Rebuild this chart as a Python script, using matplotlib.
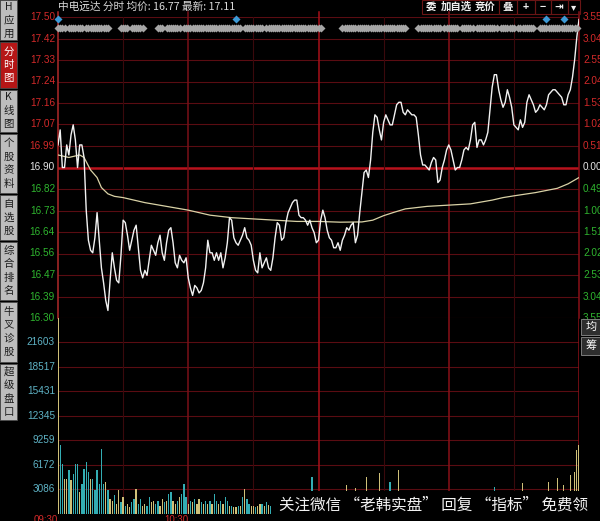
import numpy as np
import matplotlib
matplotlib.use("Agg")
import matplotlib.pyplot as plt
from matplotlib.patches import Rectangle

plt.rcParams['font.family'] = ['Noto Sans CJK SC', 'DejaVu Sans']

W, H = 600, 521

# ---- values ----
stock_title = "中电远达 分时 均价: 16.77 最新: 17.11"
prev_close = 16.90

# one price per minute, 09:30 .. 15:00 (241 points)
price = [
    16.99, 17.05, 16.90, 16.90, 16.99, 16.95, 17.03, 17.07, 17.01, 16.90,
    16.99, 16.99, 16.94, 16.73, 16.61, 16.57, 16.56, 16.62, 16.72, 16.61,
    16.50, 16.44, 16.37, 16.33, 16.45, 16.56, 16.50, 16.45, 16.44, 16.55,
    16.69, 16.68, 16.63, 16.57, 16.61, 16.65, 16.67, 16.58, 16.49, 16.46,
    16.49, 16.47, 16.53, 16.59, 16.57, 16.55, 16.60, 16.63, 16.56, 16.53,
    16.60, 16.65, 16.66, 16.60, 16.52, 16.50, 16.55, 16.53, 16.52, 16.54,
    16.46, 16.42, 16.39, 16.43, 16.42, 16.40, 16.41, 16.44, 16.50, 16.61,
    16.56, 16.56, 16.53, 16.56, 16.53, 16.56, 16.50, 16.54, 16.60, 16.70,
    16.69, 16.62, 16.60, 16.59, 16.61, 16.63, 16.66, 16.62, 16.61, 16.59,
    16.53, 16.49, 16.48, 16.56, 16.50, 16.52, 16.54, 16.50, 16.49, 16.54,
    16.62, 16.68, 16.67, 16.61, 16.62, 16.68, 16.72, 16.74, 16.76, 16.77,
    16.77, 16.71, 16.70, 16.70, 16.69, 16.67, 16.69, 16.66, 16.64, 16.60,
    16.61, 16.69, 16.73, 16.70, 16.65, 16.62, 16.61, 16.58, 16.58, 16.60,
    16.57, 16.61, 16.63, 16.66, 16.65, 16.67, 16.68, 16.60, 16.63, 16.72,
    16.80, 16.88, 16.89, 16.86, 16.93, 17.04, 17.11, 17.10, 17.05, 17.01,
    17.08, 17.11, 17.09, 17.07, 17.07, 17.11, 17.15, 17.16, 17.16, 17.12,
    17.11, 17.13, 17.12, 17.11, 17.11, 17.10, 17.03, 16.95, 16.91, 16.91,
    16.90, 16.89, 16.92, 16.94, 16.93, 16.84, 16.85, 16.90, 16.93, 16.97,
    16.99, 16.97, 16.93, 16.89, 16.90, 16.90, 16.93, 16.97, 16.98, 16.97,
    17.01, 17.07, 17.08, 16.98, 17.01, 17.01, 16.99, 17.01, 17.04, 17.13,
    17.22, 17.27, 17.27, 17.21, 17.17, 17.14, 17.16, 17.21, 17.18, 17.14,
    17.07, 17.06, 17.05, 17.09, 17.06, 17.08, 17.16, 17.19, 17.17, 17.15,
    17.12, 17.13, 17.15, 17.14, 17.13, 17.15, 17.19, 17.20, 17.21, 17.21,
    17.20, 17.19, 17.18, 17.15, 17.15, 17.19, 17.21, 17.26, 17.33, 17.42,
    17.49,
]

# average price line (smooth, read at these minutes)
avg_min = [0, 5, 10, 12, 15, 18, 20, 23, 26, 30, 40, 50, 60, 70, 80, 90, 100,
           110, 120, 130, 140, 145, 150, 155, 160, 170, 180, 190, 200, 205,
           210, 220, 230, 235, 240]
avg_price = [16.95, 16.94, 16.95, 16.94, 16.89, 16.86, 16.82, 16.795, 16.785,
             16.78, 16.76, 16.745, 16.73, 16.71, 16.70, 16.695, 16.69, 16.685,
             16.685, 16.682, 16.683, 16.69, 16.708, 16.722, 16.735, 16.745,
             16.75, 16.755, 16.77, 16.78, 16.787, 16.80, 16.817, 16.835, 16.86]

# volume per minute (bars under the watermark are guesses)
volume = [
    26000, 8600, 6300, 4380, 4380, 5440, 4170, 5020, 6280, 6280,
    2700, 3750, 5650, 6490, 5230, 4380, 4380, 2910, 5440, 3750,
    8180, 3750, 3960, 2910, 1860, 1640, 2280, 1220, 2910, 1430,
    2070, 1010, 1220, 800, 1430, 1860, 3120, 1220, 1860, 1010,
    1220, 1010, 2070, 1430, 1640, 1220, 1640, 1010, 1860, 1430,
    1640, 2490, 2700, 1640, 1220, 1640, 2070, 2490, 3750, 2070,
    1220, 1640, 1430, 1860, 1220, 1860, 1430, 1220, 1640, 1220,
    1640, 1220, 2490, 1640, 1220, 1640, 1220, 2070, 1640, 1010,
    1010, 800, 800, 1010, 1010, 2070, 3120, 1860, 1220, 1010,
    1010, 800, 1010, 1220, 1200, 1000, 1400, 1100, 900, 1300,
    1500, 1800, 1200, 1000, 1100, 1600, 1400, 1200, 1500, 1300,
    1100, 1000, 1200, 900, 1100, 1000, 1300, 4550, 1200, 1000,
    1400, 2500, 1500, 1200, 1000, 1100, 900, 1000, 1200, 900,
    1000, 1100, 1300, 3540, 1200, 1000, 1100, 3160, 1500, 1800,
    2200, 2400, 4550, 2000, 1800, 2500, 2200, 1800, 5060, 1600,
    1400, 1500, 1300, 3920, 1200, 1400, 1300, 5440, 1200, 1100,
    1000, 900, 1000, 1100, 900, 800, 1000, 1200, 1000, 900,
    800, 900, 1000, 800, 900, 1100, 1000, 900, 800, 1000,
    1100, 900, 800, 1000, 900, 800, 900, 1000, 1100, 900,
    1000, 1200, 1000, 900, 800, 900, 1000, 900, 1100, 1300,
    1500, 3290, 1400, 1200, 1000, 1100, 1200, 1300, 1100, 1000,
    900, 1000, 1100, 1200, 3800, 1100, 1300, 1400, 1200, 1000,
    1100, 1000, 1200, 1100, 1000, 1300, 3920, 1500, 1400, 1600,
    4430, 1800, 2000, 3540, 2200, 2500, 4810, 2500, 5230, 7970,
    8600,
]
# u = up minute (yellow), d = down minute (teal)
vol_dir = ("udduududdd" "uddddudddd" "dduduuduud" "uduudduddu" "udduudduud"
           "udduududdd" "ududuududu" "duddududdu" "duudududdu" "uduudududu"
           "duududdudu" "udduududdu" "uududdudud" "dududduudu" "uuuduuduud"
           "ududdududd" "duddudduud" "uduuduudud" "uduududduu" "uuduuddudu"
           "udduududdu" "ddududuudu" "dudduuuudu" "uuduuduuuu" "u")

# minutes carrying the grey trade markers, and the blue flags
tick_runs = [(0, 3), (5, 11), (13, 23), (29, 32), (34, 39), (46, 48), (50, 56),
             (58, 84), (86, 94), (96, 121), (131, 160), (166, 176), (178, 184),
             (186, 191), (193, 202), (204, 210), (212, 219), (222, 239)]
flag_min = [0, 82, 225, 233]

price_labels = ["17.50", "17.42", "17.33", "17.24", "17.16", "17.07", "16.99", "16.90",
                "16.82", "16.73", "16.64", "16.56", "16.47", "16.39", "16.30"]
pct_labels = ["3.55", "3.04", "2.55", "2.04", "1.53", "1.02", "0.51", "0.00",
              "0.49", "1.00", "1.51", "2.02", "2.53", "3.04", "3.55"]
vol_labels = ["21603", "18517", "15431", "12345", "9259", "6172", "3086"]
vol_step = 3086
time_labels = [(0, "09:30"), (60, "10:30")]
side_tabs = ["H应用", "分时图", "K线图", "个股资料", "自选股", "综合排名", "牛叉诊股", "超级盘口"]
top_buttons = ["委", "加自选", "竞价", "叠", "+", "−", "⇥", "▾"]
watermark = "关注微信 “老韩实盘” 回复 “指标” 免费领"

# ---- drawing ----
RED = '#d42a2a'
GREEN = '#2fb52f'
WHITE = '#e6e6e6'
GRID = '#5a0c12'
TEAL = '#33adb3'
YEL = '#cfc078'
NUM = 'Liberation Sans'


def fx(x):
    return x / W


def fy(y):
    return 1 - y / H


def side_color(lv):
    if abs(lv - prev_close) < 1e-6:
        return WHITE
    return RED if lv > prev_close else GREEN


fig = plt.figure(figsize=(6, 5.21), dpi=100, facecolor='black')
ax = fig.add_axes([fx(58), fy(318), 521 / W, 301 / H], facecolor='black')
axv = fig.add_axes([fx(58), fy(513.5), 521 / W, 195.5 / H], facecolor='black')
for a in (ax, axv):
    a.set_xlim(0, 240)
    a.set_xticks([])
    a.set_yticks([])
    for s in a.spines.values():
        s.set_visible(False)
ax.set_ylim(16.30, 17.50)
axv.set_ylim(0, vol_step * 8)

# price grid + labels (right-hand % labels run off the edge as in the screenshot)
levels = np.linspace(17.50, 16.30, len(price_labels))
for lv, lab, pct in zip(levels, price_labels, pct_labels):
    c = side_color(lv)
    if abs(lv - prev_close) < 1e-6:
        ax.axhline(lv, color='#b8121c', lw=1.8, zorder=1)
    else:
        ax.axhline(lv, color=GRID, lw=0.8, zorder=1)
    ax.text(-3 / 521, lv, lab, transform=ax.get_yaxis_transform(), ha='right',
            va='center', color=c, fontsize=7.2, family=NUM, clip_on=False)
    ax.text(1 + 4 / 521, lv, pct, transform=ax.get_yaxis_transform(), ha='left',
            va='center', color=c, fontsize=7.2, family=NUM, clip_on=False)

# volume grid + labels
for k, lab in enumerate(vol_labels[::-1], start=1):
    axv.axhline(k * vol_step, color=GRID, lw=0.8, zorder=1)
    axv.text(-3 / 521, k * vol_step, lab, transform=axv.get_yaxis_transform(),
             ha='right', va='center', color='#5fb3c6', fontsize=7.2, family=NUM,
             clip_on=False)

# vertical time lines
for m in [30, 90, 150, 210]:
    for a in (ax, axv):
        a.axvline(m, color='#3a090c', lw=0.8, zorder=1)
for m, c in [(0, '#b02a2a'), (60, '#7a1018'), (120, '#a8101a'), (180, '#8a1018'), (240, '#8a1018')]:
    ax.axvline(m, ymax=1 + 5 / 301, color=c, lw=1.1, zorder=1, clip_on=False)
    axv.axvline(m, color=c, lw=1.1, zorder=1)

# volume bars
bar_colors = [YEL if d == 'u' else TEAL for d in vol_dir]
axv.bar(range(len(volume)), volume, width=0.6, color=bar_colors, linewidth=0, zorder=2)

# price and average lines
ax.plot(range(len(price)), price, color='#f2f2f2', lw=1.0, zorder=4)
ax.plot(avg_min, avg_price, color='#d9d2a6', lw=0.9, zorder=3)

# marker rows at the top
tick_mins = [m for a, b in tick_runs for m in range(a, b + 1)]
ax.plot(tick_mins, [0.9635] * len(tick_mins), 'D', ms=3.6, color='#a6a6a6', mec='none',
        transform=ax.get_xaxis_transform(), clip_on=False, zorder=5)
ax.plot(flag_min, [0.9934] * len(flag_min), 'D', ms=4.4, color='#3d9ad6', mec='none',
        transform=ax.get_xaxis_transform(), clip_on=False, zorder=5)

# time labels (cut by the bottom edge as in the screenshot)
for m, lab in time_labels:
    axv.text(m, -1.5 / 195.5, lab, transform=axv.get_xaxis_transform(), ha='right',
             va='top', color=RED, fontsize=7, family=NUM, clip_on=False)

# header
fig.text(fx(58), fy(7), stock_title, va='center', ha='left', color='#d8d8d8', fontsize=7.7)
for x0, x1 in [(422, 499), (499, 517), (517, 535), (535, 551), (551, 568), (568, 580)]:
    fig.add_artist(Rectangle((fx(x0), fy(14)), (x1 - x0) / W, 14 / H, transform=fig.transFigure,
                             facecolor='none', edgecolor='#6a1515', lw=0.8))
for lab, xc in zip(top_buttons, [431, 456, 485, 508, 526, 543, 559, 574]):
    fig.text(fx(xc), fy(7), lab, ha='center', va='center', color='#f0f0f0',
             fontsize=7.5, fontweight='bold', family=['Noto Sans CJK SC', 'DejaVu Sans'])

# side tabs
tab_spans = [(0, 40), (42, 88), (90, 132), (134, 193), (195, 240), (242, 300), (302, 362), (364, 420)]
for i, (lab, (y0, y1)) in enumerate(zip(side_tabs, tab_spans)):
    active = i == 1
    fig.add_artist(Rectangle((0, fy(y1)), 17 / W, (y1 - y0) / H, transform=fig.transFigure,
                             facecolor='#b51616' if active else '#bdbdbd',
                             edgecolor='#4a4a4a', lw=0.6))
    mid = (y0 + y1) / 2
    n = len(lab)
    for j, ch in enumerate(lab):
        fig.text(fx(8.5), fy(mid + (j - (n - 1) / 2) * 13.5), ch, ha='center', va='center',
                 color='white' if active else '#1c1c1c', fontsize=7.5)

# small buttons on the right
for lab, (y0, y1) in zip(["均", "筹"], [(319, 335), (337, 355)]):
    fig.add_artist(Rectangle((fx(581), fy(y1)), 19 / W, (y1 - y0) / H, transform=fig.transFigure,
                             facecolor='#2e2e2e', edgecolor='#8a8a8a', lw=0.6))
    fig.text(fx(591.5), fy((y0 + y1) / 2), lab, ha='center', va='center', color='white', fontsize=8)

# watermark strip
fig.add_artist(Rectangle((fx(272), 0), 328 / W, 30 / H, transform=fig.transFigure,
                         facecolor='black', edgecolor='none', zorder=10))
fig.text(fx(279), fy(505), watermark, ha='left', va='center', color='#f2f2f2',
         fontsize=11.2, zorder=11)

fig.savefig('out.png', dpi=100, facecolor='black')
